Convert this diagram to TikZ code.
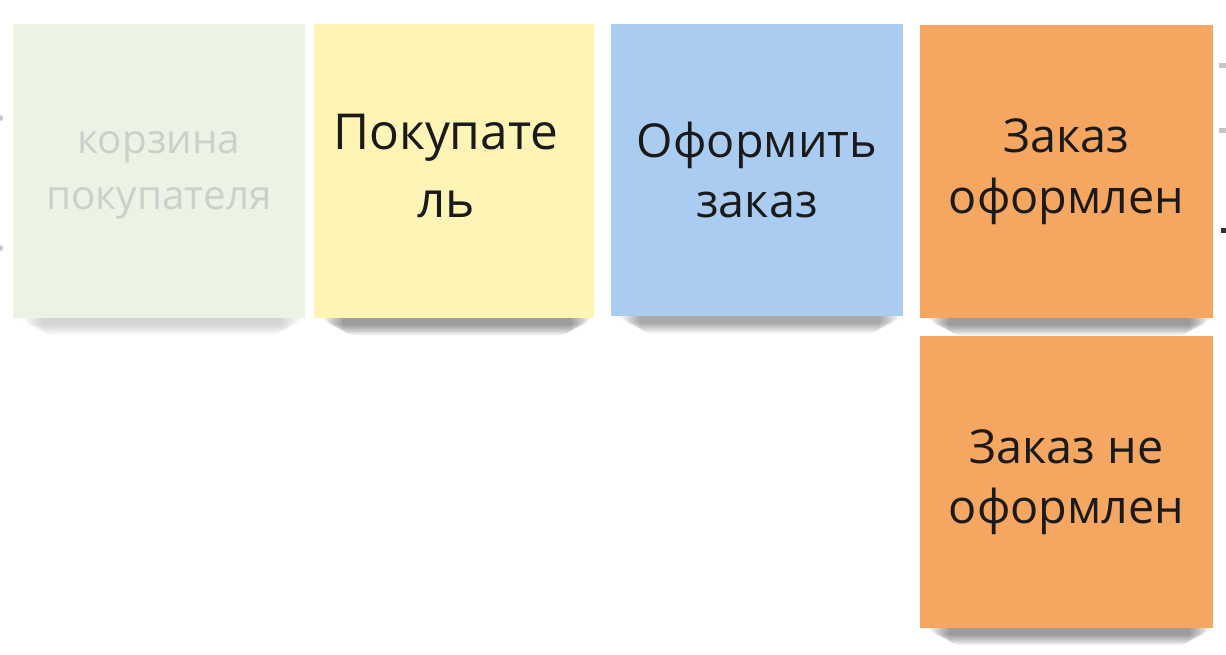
\documentclass[tikz,border=0pt]{standalone}
\usepackage{fontspec}
\setmainfont{Open Sans}
\definecolor{notegreen}{HTML}{EBF3E4}
\definecolor{noteyellow}{HTML}{FEF4B6}
\definecolor{noteblue}{HTML}{AACCF0}
\definecolor{noteorange}{HTML}{F5A660}
\definecolor{fadedtext}{HTML}{CDCFCB}
\definecolor{inktext}{HTML}{1A1A1A}
\tikzset{
  sticky/.style={minimum width=#1, inner sep=0pt, align=center, font=\fontsize{26.6}{34.5}\selectfont, text=inktext},
  notetext/.style={inner sep=0pt, align=center, text=inktext},
  shadowlayer/.style={fill=black, opacity=#1, rounded corners=6pt}
}
\newcommand\noteshadow[4]{% x1, x2, ybottom, strength
  \foreach \k in {0,...,6}{
    \fill[shadowlayer=#4] ({#1+28-3*\k},{#3-6}) rectangle ({#2-22+3*\k},{#3+17-1.6*\k});
  }}
\begin{document}
\begin{tikzpicture}[x=0.02cm, y=-0.02cm]
\useasboundingbox[fill=white] (0,0) rectangle (1226,654);
% soft shadows under the notes
\noteshadow{13}{305}{318}{0.025}
\noteshadow{314}{594}{318}{0.065}
\noteshadow{611}{903}{316}{0.055}
\noteshadow{920}{1213}{318}{0.065}
\noteshadow{920}{1213}{628}{0.065}
% sticky notes
\node[sticky=292*0.02cm, minimum height=294*0.02cm, fill=notegreen] (cart) at (159,171) {};
\node[notetext, text=fadedtext, font=\fontsize{23}{32}\selectfont] (carttext) at (159,175) {корзина\\покупателя};
\node[sticky=280*0.02cm, minimum height=294*0.02cm, fill=noteyellow] (buyer) at (454,171) {};
\node[notetext, font=\fontsize{28.2}{39}\selectfont] (buyertext) at (446,166) {Покупате\\ль};
\node[sticky=292*0.02cm, minimum height=292*0.02cm, fill=noteblue] (place) at (757,170) {Оформить\\заказ};
\node[sticky=293*0.02cm, minimum height=293*0.02cm, fill=noteorange] (done) at (1066.5,171.5) {Заказ\\оформлен};
\node[sticky=293*0.02cm, minimum height=292*0.02cm, fill=noteorange] (notdone) at (1066.5,482) {Заказ не\\оформлен};
% fragments at the edges
\fill[gray!45] (0,118) circle (3);
\fill[gray!45] (0,248) circle (3);
\fill[gray!45] (1219,63) rectangle (1226,68);
\fill[gray!45] (1219,128) rectangle (1226,133);
\fill[black!80] (1221,228) rectangle (1226,233);
\end{tikzpicture}
\end{document}
